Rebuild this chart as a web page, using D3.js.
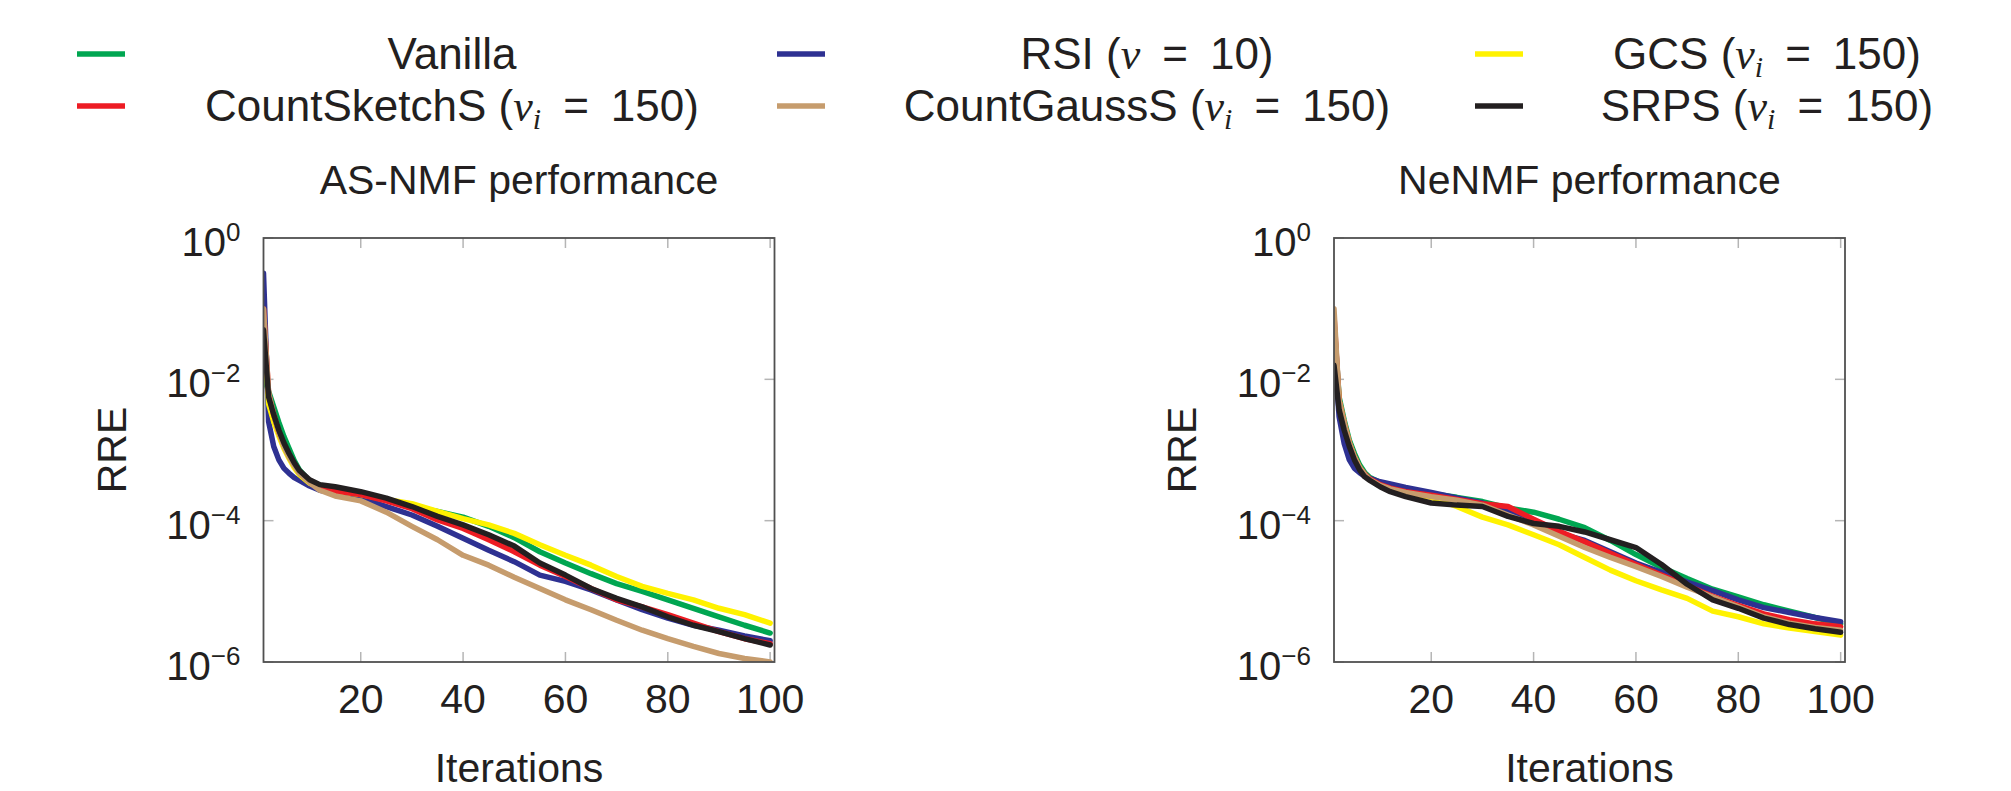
<!DOCTYPE html>
<html>
<head>
<meta charset="utf-8">
<script src="https://cdn.jsdelivr.net/npm/d3@7"></script>
<style>
  body { margin: 0; background: #fff; }
  svg { display: block; }
  text { font-family: "Liberation Sans", Arial, Helvetica, sans-serif; fill: #231f20; }
</style>
</head>
<body>
<svg id="chart" width="2011" height="791"></svg>
<script>
// iterations at which the curves were read
const iterations = [1, 2, 3, 4, 5, 6, 7, 8, 10, 12, 15, 20, 25, 30, 35, 40, 45, 50, 55, 60, 65, 70, 75, 80, 85, 90, 95, 100];

const seriesNames = ['Vanilla', 'RSI', 'GCS', 'CountSketchS', 'CountGaussS', 'SRPS'];
const seriesColors = ['#00a651', '#2e3192', '#fff200', '#ed1c24', '#c69c6d', '#231f20'];

// legend label pieces (m = math italic, sub = subscript)
const legendLabels = [
    [{t: 'Vanilla'}],
    [{t: 'RSI ('}, {t: 'ν', m: true}, {t: '\u2002=\u200210)'}],
    [{t: 'GCS ('}, {t: 'ν', m: true}, {t: 'i', m: true, sub: true}, {t: '\u2002=\u2002150)'}],
    [{t: 'CountSketchS ('}, {t: 'ν', m: true}, {t: 'i', m: true, sub: true}, {t: '\u2002=\u2002150)'}],
    [{t: 'CountGaussS ('}, {t: 'ν', m: true}, {t: 'i', m: true, sub: true}, {t: '\u2002=\u2002150)'}],
    [{t: 'SRPS ('}, {t: 'ν', m: true}, {t: 'i', m: true, sub: true}, {t: '\u2002=\u2002150)'}]
];

const xTicks = [20, 40, 60, 80, 100];
const yTickExps = [0, -2, -4, -6];

// AS-NMF, log10(RRE)
const asVanilla = [-1.95, -2.17, -2.39, -2.61, -2.81, -2.98, -3.15, -3.28, -3.44, -3.50, -3.55, -3.61, -3.70, -3.80, -3.87, -3.95, -4.08, -4.24, -4.44, -4.60, -4.75, -4.89, -5.00, -5.12, -5.24, -5.36, -5.48, -5.59];
const asRsi = [-0.5, -2.6, -2.95, -3.14, -3.26, -3.33, -3.39, -3.43, -3.51, -3.57, -3.61, -3.68, -3.80, -3.92, -4.08, -4.25, -4.42, -4.58, -4.77, -4.86, -4.98, -5.12, -5.26, -5.38, -5.48, -5.55, -5.63, -5.70];
const asGcs = [-1.2, -2.35, -2.6, -2.8, -2.98, -3.12, -3.25, -3.35, -3.47, -3.53, -3.58, -3.63, -3.70, -3.76, -3.87, -3.97, -4.06, -4.18, -4.34, -4.49, -4.63, -4.79, -4.93, -5.03, -5.12, -5.24, -5.33, -5.45];
const asCountSketch = [-1.0, -2.2, -2.5, -2.75, -2.93, -3.08, -3.2, -3.32, -3.45, -3.52, -3.58, -3.63, -3.72, -3.83, -3.99, -4.11, -4.27, -4.44, -4.63, -4.79, -4.96, -5.12, -5.22, -5.33, -5.45, -5.57, -5.67, -5.74];
const asCountGauss = [-1.0, -2.2, -2.5, -2.75, -2.95, -3.1, -3.22, -3.33, -3.46, -3.57, -3.65, -3.72, -3.88, -4.08, -4.27, -4.49, -4.63, -4.80, -4.96, -5.12, -5.26, -5.41, -5.55, -5.67, -5.78, -5.88, -5.95, -6.0];
const asSrps = [-1.3, -2.25, -2.5, -2.72, -2.9, -3.05, -3.18, -3.29, -3.42, -3.49, -3.52, -3.59, -3.68, -3.80, -3.94, -4.06, -4.20, -4.36, -4.60, -4.77, -4.96, -5.10, -5.22, -5.36, -5.48, -5.57, -5.67, -5.76];

// NeNMF, log10(RRE)
const neVanilla = [-1.2, -2.25, -2.58, -2.86, -3.05, -3.21, -3.32, -3.39, -3.46, -3.51, -3.57, -3.62, -3.67, -3.73, -3.82, -3.88, -3.98, -4.10, -4.28, -4.48, -4.66, -4.82, -4.97, -5.08, -5.19, -5.28, -5.37, -5.46];
const neRsi = [-1.5, -2.53, -2.91, -3.14, -3.26, -3.32, -3.37, -3.40, -3.45, -3.48, -3.53, -3.60, -3.68, -3.75, -3.87, -4.02, -4.18, -4.28, -4.44, -4.60, -4.73, -4.87, -4.99, -5.12, -5.23, -5.30, -5.37, -5.43];
const neGcs = [-1.3, -2.3, -2.62, -2.9, -3.1, -3.25, -3.35, -3.42, -3.50, -3.56, -3.61, -3.67, -3.80, -3.95, -4.06, -4.20, -4.34, -4.52, -4.70, -4.85, -4.98, -5.10, -5.28, -5.36, -5.46, -5.52, -5.57, -5.62];
const neCountSketch = [-1.1, -2.3, -2.62, -2.9, -3.1, -3.25, -3.34, -3.41, -3.49, -3.54, -3.59, -3.64, -3.70, -3.76, -3.80, -3.98, -4.15, -4.30, -4.46, -4.62, -4.77, -4.92, -5.07, -5.20, -5.32, -5.40, -5.46, -5.50];
const neCountGauss = [-1.0, -2.3, -2.62, -2.9, -3.1, -3.25, -3.35, -3.42, -3.50, -3.55, -3.60, -3.66, -3.71, -3.78, -3.92, -4.06, -4.22, -4.38, -4.52, -4.65, -4.79, -4.94, -5.08, -5.22, -5.36, -5.45, -5.51, -5.55];
const neSrps = [-1.8, -2.43, -2.72, -2.95, -3.14, -3.28, -3.38, -3.43, -3.52, -3.59, -3.66, -3.75, -3.78, -3.80, -3.94, -4.04, -4.08, -4.16, -4.27, -4.38, -4.62, -4.90, -5.12, -5.24, -5.38, -5.47, -5.53, -5.58];

const panels = [
    {title: 'AS-NMF performance', left: 263.5, series: [asVanilla, asRsi, asGcs, asCountSketch, asCountGauss, asSrps]},
    {title: 'NeNMF performance', left: 1334, series: [neVanilla, neRsi, neGcs, neCountSketch, neCountGauss, neSrps]}
];

const plotW = 511, plotTop = 238, plotH = 424;

const svg = d3.select('#chart');

// legend
const legendLineX = [77, 777, 1475],
    legendTextX = [452, 1147, 1767],
    legendRowY = [54, 106];

const legend = svg.append('g');
seriesNames.forEach((name, i) => {
    const col = i % 3, row = Math.floor(i / 3), cy = legendRowY[row];
    legend.append('line')
        .attr('x1', legendLineX[col]).attr('x2', legendLineX[col] + 48)
        .attr('y1', cy).attr('y2', cy)
        .attr('stroke', seriesColors[i])
        .attr('stroke-width', 5.5);
    const t = legend.append('text')
        .attr('x', legendTextX[col])
        .attr('y', cy + 15)
        .attr('text-anchor', 'middle')
        .attr('font-size', 44);
    let shifted = false;
    legendLabels[i].forEach(p => {
        const s = t.append('tspan').text(p.t);
        if (p.m) s.attr('font-family', '"Liberation Serif", "DejaVu Serif", serif').attr('font-style', 'italic');
        if (p.sub) { s.attr('font-size', 30).attr('dy', 8); shifted = true; }
        else if (shifted) { s.attr('dy', -8); shifted = false; }
    });
});

panels.forEach((panel, pi) => {
    const x = d3.scaleLinear().domain([1, 100.85]).range([panel.left, panel.left + plotW]);
    const y = d3.scaleLog().domain([1e-6, 1]).range([plotTop + plotH, plotTop]);
    const g = svg.append('g');

    // ticks (inside, on all four sides)
    const tickCol = '#b5b5b5';
    xTicks.forEach(v => {
        g.append('line').attr('x1', x(v)).attr('x2', x(v)).attr('y1', plotTop).attr('y2', plotTop + 10)
            .attr('stroke', tickCol).attr('stroke-width', 1.5);
        g.append('line').attr('x1', x(v)).attr('x2', x(v)).attr('y1', plotTop + plotH).attr('y2', plotTop + plotH - 10)
            .attr('stroke', tickCol).attr('stroke-width', 1.5);
        g.append('text').attr('x', x(v)).attr('y', plotTop + plotH + 51)
            .attr('text-anchor', 'middle').attr('font-size', 41).text(v);
    });
    yTickExps.forEach(e => {
        const yy = y(Math.pow(10, e));
        g.append('line').attr('x1', panel.left).attr('x2', panel.left + 10).attr('y1', yy).attr('y2', yy)
            .attr('stroke', tickCol).attr('stroke-width', 1.5);
        g.append('line').attr('x1', panel.left + plotW).attr('x2', panel.left + plotW - 10).attr('y1', yy).attr('y2', yy)
            .attr('stroke', tickCol).attr('stroke-width', 1.5);
        const t = g.append('text').attr('x', panel.left - 23).attr('y', yy + 18)
            .attr('text-anchor', 'end').attr('font-size', 40);
        t.append('tspan').text('10');
        t.append('tspan').attr('font-size', 26).attr('dy', -15)
            .text(e === 0 ? '0' : '\u2212' + Math.abs(e));
    });

    // curves
    const clipId = 'clip' + pi;
    svg.append('clipPath').attr('id', clipId).append('rect')
        .attr('x', panel.left).attr('y', plotTop).attr('width', plotW).attr('height', plotH);

    const line = d3.line()
        .x(d => x(d[0]))
        .y(d => y(Math.pow(10, d[1])));

    const lines = g.append('g').attr('clip-path', `url(#${clipId})`);
    panel.series.forEach((vals, si) => {
        lines.append('path')
            .datum(iterations.map((it, k) => [it, vals[k]]))
            .attr('d', line)
            .attr('fill', 'none')
            .attr('stroke', seriesColors[si])
            .attr('stroke-width', 5.5)
            .attr('stroke-linejoin', 'round')
            .attr('stroke-linecap', 'round');
    });

    // frame
    g.append('rect').attr('x', panel.left).attr('y', plotTop).attr('width', plotW).attr('height', plotH)
        .attr('fill', 'none').attr('stroke', '#505050').attr('stroke-width', 1.8);

    // titles and labels
    g.append('text').attr('x', panel.left + plotW / 2).attr('y', 194)
        .attr('text-anchor', 'middle').attr('font-size', 41).text(panel.title);
    g.append('text').attr('x', panel.left + plotW / 2).attr('y', 782)
        .attr('text-anchor', 'middle').attr('font-size', 41).text('Iterations');
    g.append('text')
        .attr('transform', `translate(${panel.left - 138},${plotTop + plotH / 2}) rotate(-90)`)
        .attr('text-anchor', 'middle').attr('font-size', 41).text('RRE');
});
</script>
</body>
</html>
